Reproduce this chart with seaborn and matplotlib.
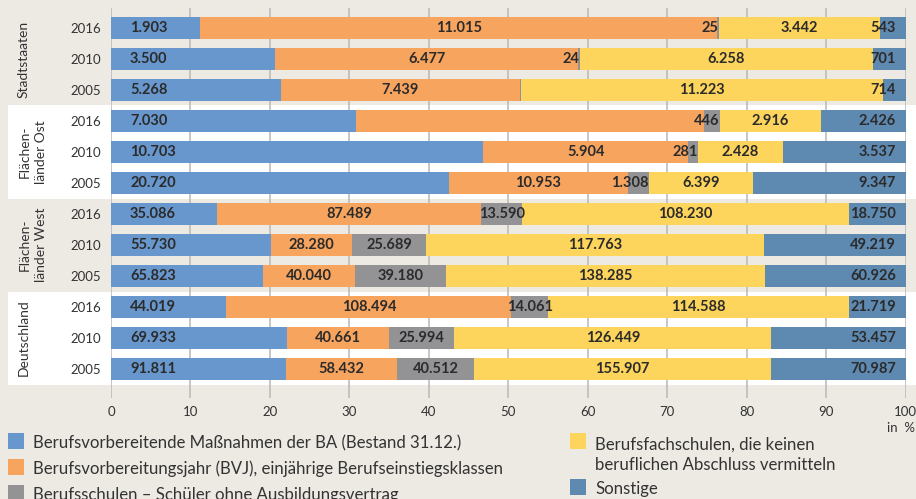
import numpy as np
import pandas as pd
import matplotlib
matplotlib.use("Agg")
import matplotlib.pyplot as plt
import matplotlib.transforms as mtransforms
from matplotlib.patches import Rectangle
import seaborn as sns

# ---- data -------------------------------------------------------------
regions = ["Stadtstaaten", "Flächen-\nländer Ost", "Flächen-\nländer West", "Deutschland"]
years = ["2016", "2010", "2005"]

# one value per (region, year), ordered region by region, years 2016/2010/2005
massnahmen_ba = [1903, 3500, 5268, 7030, 10703, 20720,
                 35086, 55730, 65823, 44019, 69933, 91811]
bvj = [11015, 6477, 7439, 9990, 5904, 10953,
       87489, 28280, 40040, 108494, 40661, 58432]
berufsschulen = [25, 24, 24, 446, 281, 1308,
                 13590, 25689, 39180, 14061, 25994, 40512]
berufsfachschulen = [3442, 6258, 11223, 2916, 2428, 6399,
                     108230, 117763, 138285, 114588, 126449, 155907]
sonstige = [543, 701, 714, 2426, 3537, 9347,
            18750, 49219, 60926, 21719, 53457, 70987]

series_names = [
    "Berufsvorbereitende Maßnahmen der BA (Bestand 31.12.)",
    "Berufsvorbereitungsjahr (BVJ), einjährige Berufseinstiegsklassen",
    "Berufsschulen – Schüler ohne Ausbildungsvertrag",
    "Berufsfachschulen, die keinen\nberuflichen Abschluss vermitteln",
    "Sonstige",
]
colors = ["#6897cd", "#f7a45f", "#939396", "#fdd45c", "#5e8ab2"]

# segments printed without a value
unlabeled = {("Stadtstaaten", "2005", 2), ("Flächen-\nländer Ost", "2016", 1)}

tick_values = list(range(0, 101, 10))

# ---- table ------------------------------------------------------------
rows = [(r, y) for r in regions for y in years]
df = pd.DataFrame({
    "region": [r for r, _ in rows],
    "year": [y for _, y in rows],
    "s0": massnahmen_ba, "s1": bvj, "s2": berufsschulen,
    "s3": berufsfachschulen, "s4": sonstige,
})
df["row"] = [f"{r}|{y}" for r, y in rows]
keys = ["s0", "s1", "s2", "s3", "s4"]
total = df[keys].sum(axis=1)
pct = df[keys].div(total, axis=0) * 100
cum = pct.cumsum(axis=1)
for k in keys:
    df["c" + k] = cum[k]

BG = "#ede9e3"
TXT = "#2b2b2b"
LABEL = "#333333"
FONT = "Lato"

W, H = 916, 499
fig = plt.figure(figsize=(W / 100, H / 100), dpi=100)
fig.patch.set_facecolor(BG)
sns.set_style("white")
plt.rcParams["font.family"] = [FONT, "DejaVu Sans"]

ax = fig.add_axes([111 / W, 1 - 398 / H, (905.7 - 111) / W, (398 - 8) / H])
ax.set_facecolor("none")

# stacked bars: cumulative shares drawn from the longest to the shortest
order = list(df["row"])
for j in reversed(range(len(keys))):
    sns.barplot(data=df, x="c" + keys[j], y="row", order=order, orient="h",
                color=colors[j], saturation=1, width=0.71, linewidth=0, ax=ax)

ax.set_xlim(0, 100)
ax.set_ylim(len(order) - 1 + 0.935, -0.645)
for s in ax.spines.values():
    s.set_visible(False)
ax.set_axisbelow(True)
ax.grid(axis="x", color="#b8b8b8", lw=1.1)
ax.grid(axis="y", visible=False)
ax.set_xlabel("")
ax.set_ylabel("")
ax.set_xticks(tick_values)
ax.set_xticklabels([str(t) for t in tick_values], fontsize=9.5, color=LABEL)
ax.set_yticks(range(len(order)))
ax.set_yticklabels(list(df["year"]), fontsize=9.5, color=LABEL)
ax.tick_params(axis="both", length=0)
ax.tick_params(axis="y", pad=7)
ax.tick_params(axis="x", pad=6)

# white bands behind alternate region groups
blend = mtransforms.blended_transform_factory(fig.transFigure, ax.transData)
for g in (1, 3):
    fig.add_artist(Rectangle((8 / W, 3 * g - 0.5), 1, 3, transform=blend,
                             facecolor="white", edgecolor="none", zorder=-1))

# region names
for g, name in enumerate(regions):
    xpos = 24 if "\n" not in name else 33
    ax.text(xpos / W, 3 * g + 1, name, transform=blend, rotation=90,
            ha="center", va="center", multialignment="center",
            fontsize=10, color=LABEL, linespacing=1.35)

# value labels
def fmt(v):
    return f"{v:,}".replace(",", ".")

for i in range(len(df)):
    reg, yr = df.loc[i, "region"], df.loc[i, "year"]
    for k, key in enumerate(keys):
        if (reg, yr, k) in unlabeled:
            continue
        right = cum.loc[i, key]
        left = 0.0 if k == 0 else cum.loc[i, keys[k - 1]]
        v = int(df.loc[i, key])
        if k == 0:
            x, ha = left + 2.4, "left"
        elif k == len(keys) - 1:
            x, ha = 98.8, "right"
        elif right - left < 3:
            x, ha = right, "right"
        else:
            x, ha = (left + right) / 2, "center"
        ax.text(x, i, fmt(v), ha=ha, va="center", fontsize=10.5,
                fontweight="bold", color=TXT)

fig.text(0.999, 1 - 428 / H, "in  %", ha="right", va="center",
         fontsize=9.5, color=LABEL)

# legend: colour square with its text, first text line level with the square
LINE = 21.5
def legend_entry(xpx, ytop, k):
    fig.add_artist(Rectangle((xpx / W, 1 - (ytop + 16) / H), 16 / W, 16 / H,
                             transform=fig.transFigure, facecolor=colors[k],
                             edgecolor="none"))
    extra = series_names[k].count("\n") * LINE
    fig.text((xpx + 25) / W, 1 - (ytop + 15 + extra) / H, series_names[k],
             ha="left", va="baseline", fontsize=12.1, color=LABEL,
             linespacing=1.28)

legend_entry(8, 433, 0)
legend_entry(8, 459, 1)
legend_entry(8, 485, 2)
legend_entry(570, 433, 3)
legend_entry(570, 479, 4)

fig.savefig("out.png", dpi=100, facecolor=BG)
